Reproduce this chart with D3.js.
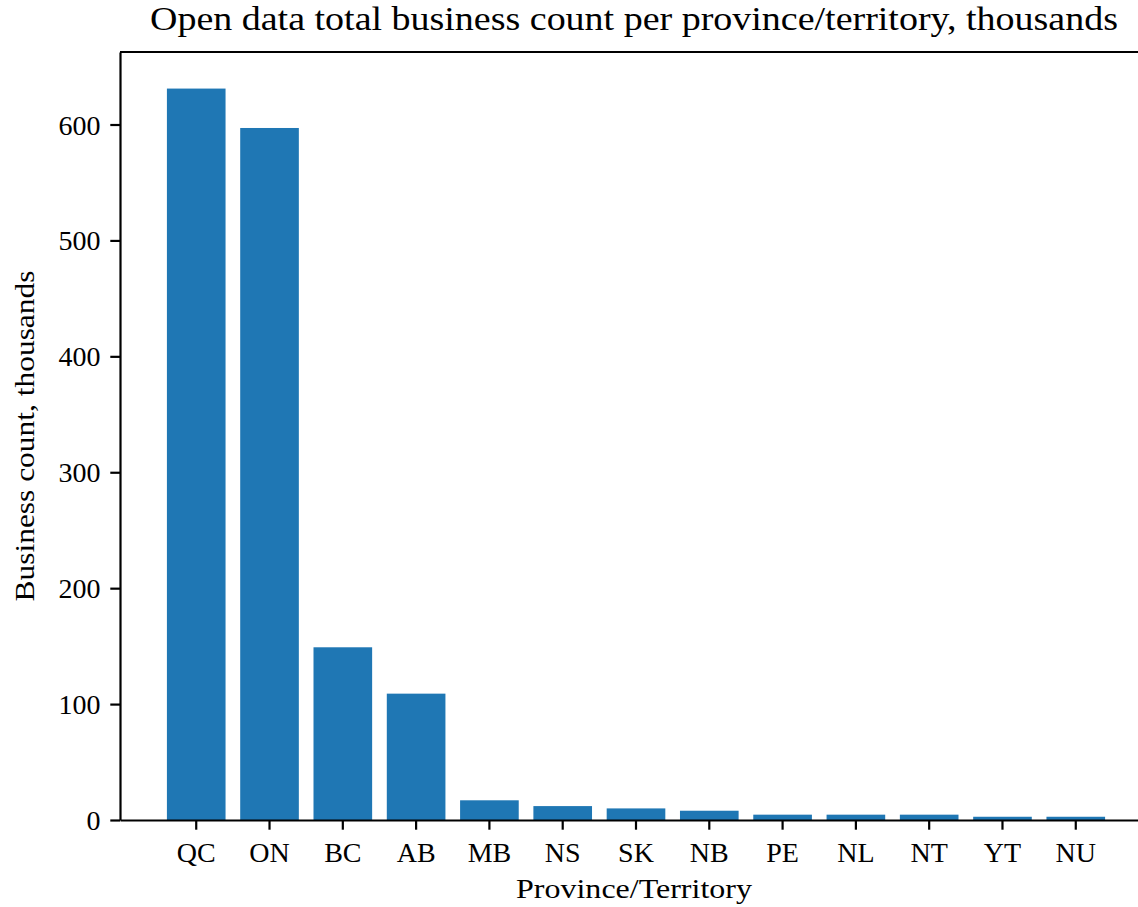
<!DOCTYPE html>
<html>
<head>
<meta charset="utf-8">
<script src="https://cdn.jsdelivr.net/npm/d3@7"></script>
<style>
  html, body { margin: 0; padding: 0; background: #fff; }
  svg { display: block; }
  text { font-family: "Liberation Serif", "DejaVu Serif", serif; fill: #000; }
</style>
</head>
<body>
<svg id="chart" width="1138" height="907"></svg>
<script>
// Business counts (thousands) by province / territory
const provinces = ["QC", "ON", "BC", "AB", "MB", "NS", "SK", "NB", "PE", "NL", "NT", "YT", "NU"];
const businessCounts = [631, 597, 149, 109, 17, 12, 10, 8, 4.6, 4.6, 4.6, 2.8, 2.8];
const yTicks = [0, 100, 200, 300, 400, 500, 600];

const titleText = "Open data total business count per province/territory, thousands";
const xLabelText = "Province/Territory";
const yLabelText = "Business count, thousands";

const svg = d3.select("#chart");
const plot = { left: 120, top: 52, right: 1152, bottom: 820 };
const tickLen = 9.7, tickPad = 9.7, lineW = 2.2;

const x = d3.scaleBand()
  .domain(provinces)
  .range([plot.left, plot.right])
  .paddingInner(0.2)
  .paddingOuter(0.64);

const y = d3.scaleLinear()
  .domain([0, d3.max(businessCounts) * 1.05])
  .range([plot.bottom, plot.top]);

const rows = provinces.map((p, i) => ({ p, v: businessCounts[i] }));

// bars
svg.append("g")
  .selectAll("rect")
  .data(rows)
  .join("rect")
  .attr("x", d => x(d.p))
  .attr("width", x.bandwidth())
  .attr("y", d => y(d.v))
  .attr("height", d => y(0) - y(d.v))
  .attr("fill", "#1f77b4");

// axes
const xAxis = svg.append("g")
  .attr("transform", `translate(0,${plot.bottom})`)
  .call(d3.axisBottom(x).tickSize(tickLen).tickPadding(tickPad).tickSizeOuter(0));

const yAxis = svg.append("g")
  .attr("transform", `translate(${plot.left},0)`)
  .call(d3.axisLeft(y).tickValues(yTicks).tickSize(tickLen).tickPadding(tickPad).tickSizeOuter(0));

[xAxis, yAxis].forEach(g => {
  g.select(".domain").attr("stroke", "#000").attr("stroke-width", lineW);
  g.selectAll(".tick line").attr("stroke", "#000").attr("stroke-width", lineW);
  g.selectAll(".tick text").style("font-size", "28px").attr("fill", "#000");
});
xAxis.selectAll(".tick text").attr("dy", "0.82em");
yAxis.selectAll(".tick text").attr("dy", "0.34em");

// top spine (right spine falls outside the canvas)
svg.append("line")
  .attr("x1", plot.left).attr("x2", plot.right)
  .attr("y1", plot.top).attr("y2", plot.top)
  .attr("stroke", "#000").attr("stroke-width", lineW);

// title
svg.append("text")
  .attr("x", (plot.left + plot.right) / 2 - 2)
  .attr("y", 30)
  .attr("text-anchor", "middle")
  .attr("textLength", 968)
  .attr("lengthAdjust", "spacingAndGlyphs")
  .style("font-size", "33px")
  .text(titleText);

// axis labels
svg.append("text")
  .attr("x", (plot.left + plot.right) / 2 - 2)
  .attr("y", 898)
  .attr("text-anchor", "middle")
  .attr("textLength", 236)
  .attr("lengthAdjust", "spacingAndGlyphs")
  .style("font-size", "28px")
  .text(xLabelText);

svg.append("text")
  .attr("transform", `translate(34,${(plot.top + plot.bottom) / 2}) rotate(-90)`)
  .attr("text-anchor", "middle")
  .attr("textLength", 331)
  .attr("lengthAdjust", "spacingAndGlyphs")
  .style("font-size", "28px")
  .text(yLabelText);
</script>
</body>
</html>
